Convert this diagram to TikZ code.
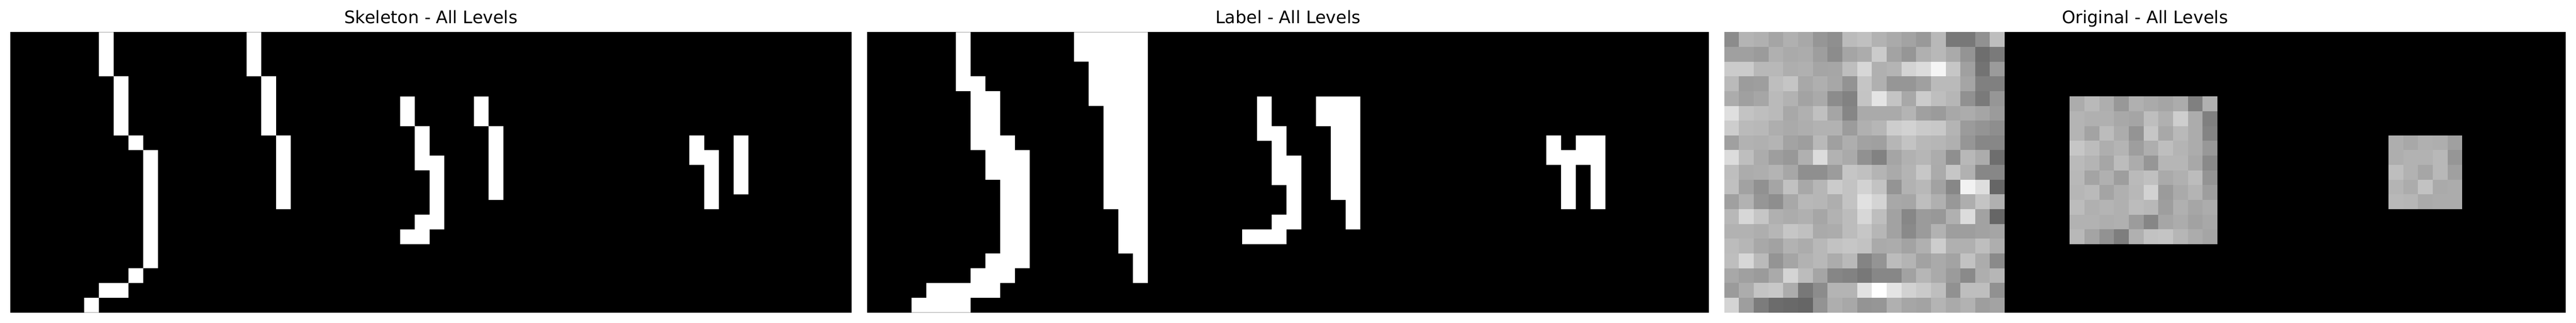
\documentclass[tikz,border=0pt]{standalone}
\usepackage{tikz}
\usepackage{xcolor}
\usepackage{fontspec}
\setmainfont{DejaVu Sans}
\tikzset{
	paneltitle/.style={anchor=base,inner sep=0pt,font=\fontsize{14.23}{17}\selectfont},
	graycell/.style={fill={rgb,255:red,#1;green,#1;blue,#1}}
}

\begin{document}
\begin{tikzpicture}[x=0.42807cm,y=-0.42807cm]
	\useasboundingbox (0,0) rectangle (174.505,21.866);
	\node[paneltitle] (t-skeleton) at (29.2008,1.59) {Skeleton - All Levels};
	\node[paneltitle] (t-label) at (87.252,1.59) {Label - All Levels};
	\node[paneltitle] (t-original) at (145.3,1.59) {Original - All Levels};
	% skeleton
	\begin{scope}[shift={(0.7008,2.1725)}]
		\fill[black] (0,0) rectangle (57,19);
		\fill[white] \foreach \x/\y/\w/\h in {6/0/1/3,7/3/1/4,8/7/1/1,9/8/1/8,8/16/1/1,6/17/2/1,5/18/1/1,16/0/1/3,17/3/1/4,18/7/1/5}
			{(\x,\y) rectangle ++(\w,\h)};
		\fill[white,shift={(23.4,4.37)}] \foreach \x/\y/\w/\h in {3/0/1/2,4/2/1/3,5/4/1/5,4/8/1/1,3/9/2/1,8/0/1/2,9/2/1/5}
			{(\x,\y) rectangle ++(\w,\h)};
		\fill[white,shift={(45,7)}] \foreach \x/\y/\w/\h in {1/0/1/2,2/1/1/4,4/0/1/4}
			{(\x,\y) rectangle ++(\w,\h)};
	\end{scope}
	% label
	\begin{scope}[shift={(58.752,2.1725)}]
		\fill[black] (0,0) rectangle (57,19);
		\fill[white] \foreach \x/\y/\w/\h in {6/0/1/3,6/3/2/1,7/4/2/3,7/7/3/1,8/8/3/2,9/10/2/5,8/15/3/1,7/16/3/1,4/17/5/1,3/18/4/1,14/0/5/2,15/2/4/3,16/5/3/7,17/12/2/3,18/15/1/2}
			{(\x,\y) rectangle ++(\w,\h)};
		\fill[white,shift={(23.4,4.37)}] \foreach \x/\y/\w/\h in {3/0/1/3,4/2/1/4,5/4/1/5,4/8/1/1,2/9/3/1,7/0/1/2,8/0/2/7,9/7/1/2}
			{(\x,\y) rectangle ++(\w,\h)};
		\fill[white,shift={(45,7)}] \foreach \x/\y/\w/\h in {1/0/1/2,2/1/1/4,3/0/1/2,4/0/1/5}
			{(\x,\y) rectangle ++(\w,\h)};
	\end{scope}
	% original
	\begin{scope}[shift={(116.803,2.1725)}]
		\fill[black] (0,0) rectangle (57,19);
		\foreach \row [count=\r from 0] in {
			{140,180,176,165,176,168,150,143,187,192,178,170,163,153,184,120,120,145,190},
			{160,160,155,176,170,172,158,140,165,172,203,163,150,176,184,170,148,110,122},
			{203,203,184,184,174,176,165,166,190,215,176,180,212,220,245,198,160,115,155},
			{186,156,158,190,197,168,175,167,147,197,176,150,150,160,186,186,165,128,128},
			{172,160,166,186,178,163,170,140,130,196,228,196,168,204,190,182,145,122,150},
			{223,195,190,186,168,176,192,165,134,170,170,170,180,160,155,168,172,165,155},
			{205,186,184,174,170,174,178,178,156,176,182,205,210,202,200,180,155,148,142},
			{160,178,176,180,163,158,185,160,174,162,160,182,195,184,182,176,150,135,135},
			{220,190,172,158,152,176,220,178,170,145,130,165,177,182,172,143,184,172,110},
			{190,172,174,180,167,143,143,156,197,192,180,170,180,199,171,198,177,135,135},
			{192,162,145,165,193,168,182,203,195,210,195,148,178,184,162,135,242,222,102},
			{160,178,150,142,168,184,182,174,195,225,212,168,166,190,176,152,174,196,176},
			{184,215,198,176,172,176,166,178,188,215,190,162,135,155,152,176,220,162,102},
			{178,178,174,182,198,192,170,172,188,198,182,162,138,155,178,158,158,162,165},
			{188,182,168,162,178,172,184,194,198,194,170,172,163,176,205,176,176,190,174},
			{190,215,186,148,165,178,184,172,185,132,148,188,180,162,170,163,194,172,138},
			{168,160,155,170,212,188,165,134,130,120,135,135,162,182,170,155,138,174,182},
			{155,172,196,200,172,120,140,180,180,226,255,228,210,202,190,145,190,190,145},
			{212,158,124,108,105,102,147,174,168,148,150,176,166,163,180,170,178,158,163}}
			{
				\foreach \v [count=\c from 0] in \row
					\fill[graycell=\v] (\c,\r) rectangle ++(1,1);
			}
		\foreach \row [count=\r from 0] in {
			{172,185,174,152,176,170,165,172,128,176},
			{180,176,176,168,165,190,176,206,172,128},
			{180,163,188,172,148,198,168,185,172,132},
			{198,188,174,180,158,174,190,180,172,152},
			{186,180,166,188,172,150,182,182,168,138},
			{184,164,176,158,186,192,170,176,188,148},
			{182,186,164,176,184,210,155,170,180,158},
			{188,176,180,176,188,184,158,176,166,172},
			{178,178,174,176,156,134,166,172,162,168},
			{184,164,146,126,176,194,196,182,172,165}}
			{
				\foreach \v [count=\c from 0] in \row
					\fill[graycell=\v] (23.41+\c,4.37+\r) rectangle ++(1,1);
			}
		\foreach \row [count=\r from 0] in {
			{174,168,176,174,160},
			{174,178,178,184,150},
			{190,178,166,184,160},
			{180,172,194,170,172},
			{184,182,170,172,172}}
			{
				\foreach \v [count=\c from 0] in \row
					\fill[graycell=\v] (45+\c,7+\r) rectangle ++(1,1);
			}
	\end{scope}
\end{tikzpicture}
\end{document}
